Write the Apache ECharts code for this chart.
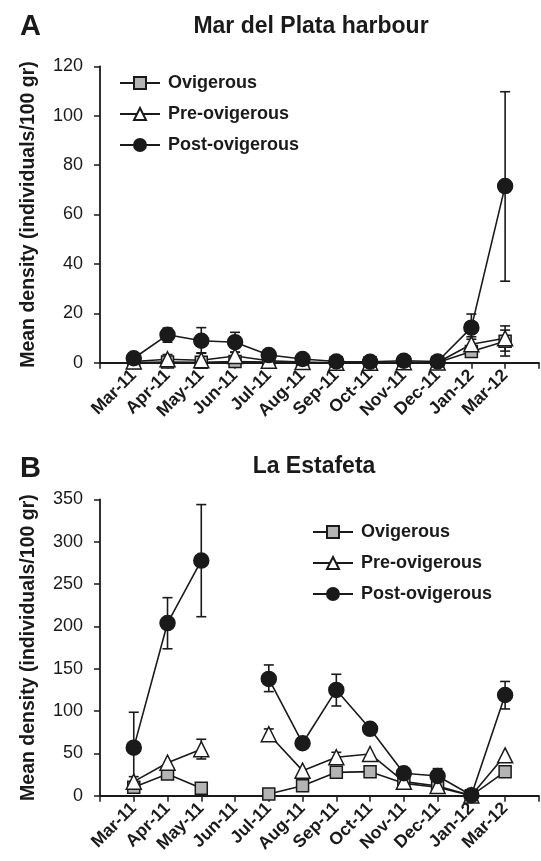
<!DOCTYPE html>
<html lang="en">
<head>
    <meta charset="UTF-8">
    <title>Mean density</title>
    <style>
        html, body { margin: 0; padding: 0; background: #fff; }
        #box { width: 541px; height: 861px; }
    </style>
    <script src="https://cdn.jsdelivr.net/npm/echarts@6/dist/echarts.min.js"></script>
</head>
<body>
    <div id="box"></div>
    <script>
        // months sampled (no Feb-12)
        const months = ['Mar-11', 'Apr-11', 'May-11', 'Jun-11', 'Jul-11', 'Aug-11',
            'Sep-11', 'Oct-11', 'Nov-11', 'Dec-11', 'Jan-12', 'Mar-12'];
        const seriesNames = ['Ovigerous', 'Pre-ovigerous', 'Post-ovigerous'];
        const yTicksA = [0, 20, 40, 60, 80, 100, 120];
        const yTicksB = [0, 50, 100, 150, 200, 250, 300, 350];

        // A: Mar del Plata harbour
        const aOvi = [0.1, 0.3, 0.2, 0.5, 0.3, 0.1, 0, 0, 0.1, 0.1, 4.5, 8.7];
        const aOviLo = [null, null, null, null, null, null, null, null, null, null, 2.5, 2.7];
        const aOviHi = [null, null, null, null, null, null, null, null, null, null, 6.5, 13.2];
        const aPre = [0.5, 1.4, 1.0, 2.7, 0.8, 0.3, 0, 0, 0.2, 0.1, 7.5, 9.9];
        const aPreLo = [null, 0, 0, 0.8, null, null, null, null, null, null, 4.5, 4.7];
        const aPreHi = [null, 3.3, 4.0, 4.2, null, null, null, null, null, null, 10.5, 14.9];
        const aPost = [1.8, 11.3, 8.9, 8.3, 3.1, 1.5, 0.5, 0.4, 0.8, 0.5, 14.2, 71.5];
        const aPostLo = [null, 8.3, 3.8, 4.3, 1.5, null, null, null, null, null, 9.5, 33];
        const aPostHi = [null, 14.0, 14.2, 12.3, 5.0, null, null, null, null, null, 19.7, 109.7];

        // B: La Estafeta (no Jun-11 sample)
        const bOvi = [9.9, 25.7, 8.7, null, 2, 11.8, 27.6, 28.4, 14.6, 9.9, 0, 28.4];
        const bPre = [16.6, 39, 55, null, 72.6, 29.6, 45.4, 49.3, 16.6, 11.5, 0.3, 47.7];
        const bPreLo = [10, null, 43.4, null, 65.9, null, 38, null, null, null, null, null];
        const bPreHi = [22.5, null, 66.7, null, 78.9, null, 51.3, null, null, null, null, null];
        const bPost = [56.8, 204, 277.8, null, 138, 62, 125, 79, 26.5, 23.3, 0.5, 119];
        const bPostLo = [15, 173.6, 211.5, null, 123, null, 106, null, null, 15, null, 102.5];
        const bPostHi = [98.6, 234, 344, null, 154.5, null, 143.5, null, null, 32, null, 135];

        const ink = '#1a1a1a';
        const font = 'Liberation Sans, Arial, sans-serif';

        function pts(arr) {
            return arr.map((v, i) => [i, v]);
        }

        function errPts(lo, hi) {
            let out = [];
            lo.forEach((v, i) => {
                if (v !== null && hi[i] !== null) out.push([i, v, hi[i]]);
            });
            return out;
        }

        function errorBars(lo, hi, g) {
            return {
                type: 'custom',
                xAxisIndex: g, yAxisIndex: g,
                z: 1,
                silent: true,
                data: errPts(lo, hi),
                renderItem(params, api) {
                    let x = api.value(0);
                    let p1 = api.coord([x, api.value(1)]);
                    let p2 = api.coord([x, api.value(2)]);
                    let w = 5;
                    let st = { stroke: ink, lineWidth: 1.6 };
                    return {
                        type: 'group',
                        children: [
                            { type: 'line', shape: { x1: p1[0], y1: p1[1], x2: p2[0], y2: p2[1] }, style: st },
                            { type: 'line', shape: { x1: p1[0] - w, y1: p1[1], x2: p1[0] + w, y2: p1[1] }, style: st },
                            { type: 'line', shape: { x1: p2[0] - w, y1: p2[1], x2: p2[0] + w, y2: p2[1] }, style: st }
                        ]
                    };
                }
            };
        }

        const styles = {
            'Ovigerous': { symbol: 'rect', symbolSize: 12, color: '#b4b4b4' },
            'Pre-ovigerous': { symbol: 'triangle', symbolSize: 15, color: '#ffffff' },
            'Post-ovigerous': { symbol: 'circle', symbolSize: 15, color: ink }
        };

        function lineSeries(name, data, g) {
            let s = styles[name];
            return {
                name: name,
                type: 'line',
                xAxisIndex: g, yAxisIndex: g,
                z: 3,
                data: pts(data),
                connectNulls: false,
                symbol: s.symbol,
                symbolSize: s.symbolSize,
                showAllSymbol: true,
                lineStyle: { color: ink, width: 1.6 },
                itemStyle: { color: s.color, borderColor: ink, borderWidth: 1.5, opacity: 1 },
                emphasis: { disabled: true },
                animation: false
            };
        }

        function xAxis(g) {
            return {
                type: 'value', gridIndex: g,
                min: -1, max: 12, interval: 1,
                axisLine: { onZero: false, lineStyle: { color: ink, width: 1.8 } },
                axisTick: { show: true, length: 6, lineStyle: { color: ink, width: 1.5 } },
                splitLine: { show: false },
                axisLabel: {
                    rotate: 45, margin: 10,
                    fontFamily: font, fontSize: 17.5, fontWeight: 'bold', color: ink,
                    formatter: v => (v >= 0 && v < months.length) ? months[v] : ''
                }
            };
        }

        function yAxis(g, ticks) {
            return {
                type: 'value', gridIndex: g,
                min: ticks[0], max: ticks[ticks.length - 1],
                interval: ticks[1] - ticks[0],
                name: 'Mean density (individuals/100 gr)',
                nameLocation: 'middle', nameGap: 61,
                nameTextStyle: { fontFamily: font, fontSize: 19.5, fontWeight: 'bold', color: ink },
                axisLine: { show: true, onZero: false, lineStyle: { color: ink, width: 1.8 } },
                axisTick: { show: true, length: 6, lineStyle: { color: ink, width: 1.5 } },
                splitLine: { show: false },
                axisLabel: { margin: 17, fontFamily: font, fontSize: 18, color: ink }
            };
        }

        function legend(left, top) {
            return {
                data: seriesNames,
                orient: 'vertical',
                left: left, top: top,
                itemWidth: 40, itemHeight: 15, itemGap: 13,
                selectedMode: false,
                textStyle: { fontFamily: font, fontSize: 18, fontWeight: 'bold', color: ink, padding: [0, 0, 0, 3] }
            };
        }

        let chart = echarts.init(document.getElementById('box'));

        let option = {
            backgroundColor: '#fff',
            animation: false,
            title: [
                { text: 'A', left: 15, top: 7, textStyle: { fontFamily: font, fontSize: 29, fontWeight: 'bold', color: ink } },
                { text: 'Mar del Plata harbour', left: 306, top: 10, textAlign: 'center', textStyle: { fontFamily: font, fontSize: 23, fontWeight: 'bold', color: ink } },
                { text: 'B', left: 15, top: 449, textStyle: { fontFamily: font, fontSize: 29, fontWeight: 'bold', color: ink } },
                { text: 'La Estafeta', left: 309, top: 450, textAlign: 'center', textStyle: { fontFamily: font, fontSize: 23, fontWeight: 'bold', color: ink } }
            ],
            legend: [legend(114, 69), legend(307, 518)],
            grid: [
                { left: 100, top: 66.3, width: 444.6, height: 296.4 },
                { left: 100, top: 499.5, width: 444.6, height: 296.2 }
            ],
            xAxis: [xAxis(0), xAxis(1)],
            yAxis: [yAxis(0, yTicksA), yAxis(1, yTicksB)],
            series: [
                errorBars(aOviLo, aOviHi, 0),
                errorBars(aPreLo, aPreHi, 0),
                errorBars(aPostLo, aPostHi, 0),
                lineSeries('Ovigerous', aOvi, 0),
                lineSeries('Pre-ovigerous', aPre, 0),
                lineSeries('Post-ovigerous', aPost, 0),
                errorBars(bPreLo, bPreHi, 1),
                errorBars(bPostLo, bPostHi, 1),
                lineSeries('Ovigerous', bOvi, 1),
                lineSeries('Pre-ovigerous', bPre, 1),
                lineSeries('Post-ovigerous', bPost, 1)
            ]
        };

        chart.setOption(option);
    </script>
</body>
</html>
